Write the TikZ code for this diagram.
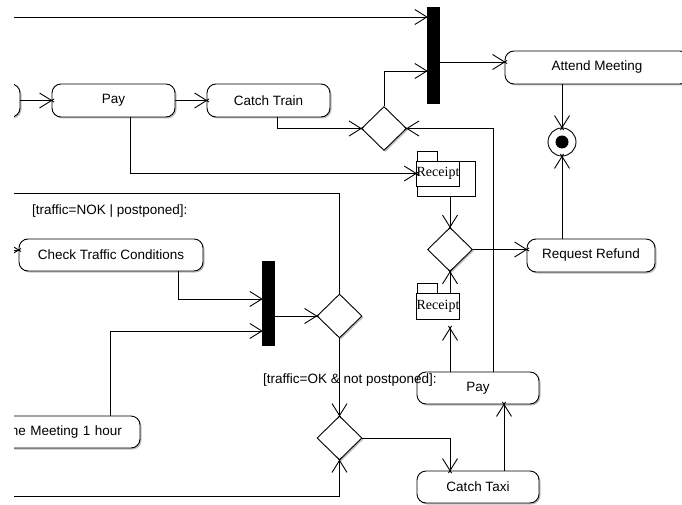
\documentclass[tikz,border=0pt]{standalone}
\usepackage{fontspec}
\setmainfont{Liberation Sans}
\newfontfamily\recfont{Liberation Serif}
\usetikzlibrary{shapes.geometric,calc,shadows,arrows.meta}
\pgfdeclarearrow{
  name=umlx,
  setup code={
    \pgfarrowssettipend{0pt}
    \pgfarrowssetlineend{0pt}
    \pgfarrowssetbackend{-12pt}
    \pgfarrowshullpoint{2.5pt}{0pt}
    \pgfarrowshullpoint{-12pt}{7.5pt}
    \pgfarrowshullpoint{-12pt}{-7.5pt}
  },
  drawing code={
    \pgfsetdash{}{0pt}
    \pgfpathmoveto{\pgfqpoint{-12pt}{7.5pt}}
    \pgfpathlineto{\pgfqpoint{2.5pt}{-1.56pt}}
    \pgfpathmoveto{\pgfqpoint{-12pt}{-7.5pt}}
    \pgfpathlineto{\pgfqpoint{2.5pt}{1.56pt}}
    \pgfusepathqstroke
  }
}
\tikzset{
  lw/.style={line width=0.9pt},
  shad/.style={drop shadow={shadow xshift=1.5pt,shadow yshift=-1.5pt,opacity=0.25,fill=black}},
  act/.style={draw,lw,fill=white,shad,rounded corners=9pt,minimum height=33pt,inner sep=0pt,font=\fontsize{13.5}{15}\selectfont},
  bar/.style={fill=black,draw=black,inner sep=0pt,minimum width=12pt},
  dec/.style={draw,lw,fill=white,shad,shape=diamond,inner sep=0pt,minimum width=45pt,minimum height=44pt},
  objbox/.style={draw,lw,fill=white,inner sep=0pt},
  rectext/.style={objbox,font=\recfont\fontsize{14}{15}\selectfont},
  guard/.style={inner sep=0pt,anchor=west,font=\fontsize{13.5}{15}\selectfont},
  arr/.style={lw,-{umlx}},
  conn/.style={lw}
}
\begin{document}
\begin{tikzpicture}[x=1pt,y=-1pt]
\useasboundingbox (0,0) rectangle (682,505);
\fill[white] (0,0) rectangle (682,505);
\begin{scope}
\clip (14,0) rectangle (682,505);
% free ends
\coordinate (tl) at (0,17);
\coordinate (nl) at (0,193);
\coordinate (bl) at (0,496);
\coordinate (ckin) at (-20,250);
\coordinate (y62) at (0,62);
% nodes
\node[act,minimum width=140pt] (prev) at (-50,100.5) {};
\node[act,minimum width=123pt] (pay1) at (113.5,100.5) {Pay};
\node[act,minimum width=123pt] (train) at (268.5,100.5) {Catch Train};
\node[bar,minimum height=96pt] (bar1) at (433,55) {};
\node[act,minimum width=184pt] (attend) at (597,67.5) {Attend Meeting};
\node[circle,draw,lw,fill=white,minimum size=28pt,inner sep=0pt] (final) at (562,142) {};
\node[circle,fill=black,minimum size=13pt,inner sep=0pt] (finaldot) at (562,142) {};
\node[dec] (d1) at (384,128.5) {};
\node[objbox,minimum width=20pt,minimum height=10pt] (rec1tab) at (427,156) {};
\node[objbox,minimum width=58pt,minimum height=35pt] (rec1) at (446,178.5) {};
\node[rectext,minimum width=42pt,minimum height=25pt] (rec1t) at (438,173.5) {Receipt};
\node[dec] (d2) at (450,249.5) {};
\node[act,minimum width=128pt] (refund) at (591,255.5) {Request Refund};
\node[objbox,minimum width=20pt,minimum height=10pt] (rec2tab) at (427,288) {};
\node[rectext,minimum width=42pt,minimum height=26pt] (rec2) at (438,306) {Receipt};
\node[act,minimum width=122pt,minimum height=32pt] (pay2) at (478,388) {Pay};
\node[act,minimum width=122pt,minimum height=32pt] (taxi) at (478,487) {Catch Taxi};
\node[dec] (d3) at (339.5,316) {};
\node[dec] (d4) at (339.5,438) {};
\node[act,minimum width=184pt,minimum height=32pt] (check) at (111,255) {Check Traffic Conditions};
\node[bar,minimum height=84pt] (bar2) at (268,303) {};
\node[act,minimum width=200pt,minimum height=32pt,text width=164pt,align=right] (post) at (40,432) {ne Meeting 1 hour};
\node[guard] (g1) at (32,211) {[traffic=NOK | postponed]:};
\node[guard] (g2) at (263,380) {[traffic=OK \& not postponed]:};
% connectors
\draw[arr] (prev) -- (pay1);
\draw[arr] (pay1) -- (train);
\draw[arr] (tl) -- (tl -| bar1.west);
\draw[arr] (d1.north) |- ($(bar1.west)+(0,16)$);
\draw[arr] (bar1.east |- y62) -- (attend.west |- y62);
\draw[arr] (final |- attend.south) -- (final.north);
\draw[arr] (final |- refund.north) -- (final.south);
\draw[arr] ($(train.south)+(8.5,0)$) |- (d1.west);
\draw[arr] ($(pay1.south)+(16.5,0)$) |- (rec1t.west);
\draw[arr] ($(pay2.north)+(15,0)$) |- (d1.east);
\draw[arr] (d2 |- rec1.south) -- (d2.north);
\draw[arr] (d2.east) -- (refund.west |- d2.east);
\draw[arr] (d2 |- rec2.north) -- (d2.south);
\draw[arr,shorten >=9pt] (d2 |- pay2.north) -- (d2 |- rec2.south);
\draw[arr] ($(taxi.north)+(26,0)$) -- ($(pay2.south)+(26,0)$);
\draw[arr] (d4.east) -| ($(taxi.north)+(-28,0)$);
\draw[arr] (bl) -| (d4.south);
\draw[arr] (d3.south) -- (d4.north);
\draw[conn] (d3.north) |- (nl);
\draw[arr] ($(check.south)+(67,0)$) |- ($(bar2.west)+(0,-4)$);
\draw[arr] ($(post.north)+(70,0)$) |- ($(bar2.west)+(0,28)$);
\draw[arr] ($(bar2.east)+(0,13)$) -- (d3.west);
\draw[arr] (ckin) -- ([yshift=5pt]check.west);
\end{scope}
\end{tikzpicture}
\end{document}
